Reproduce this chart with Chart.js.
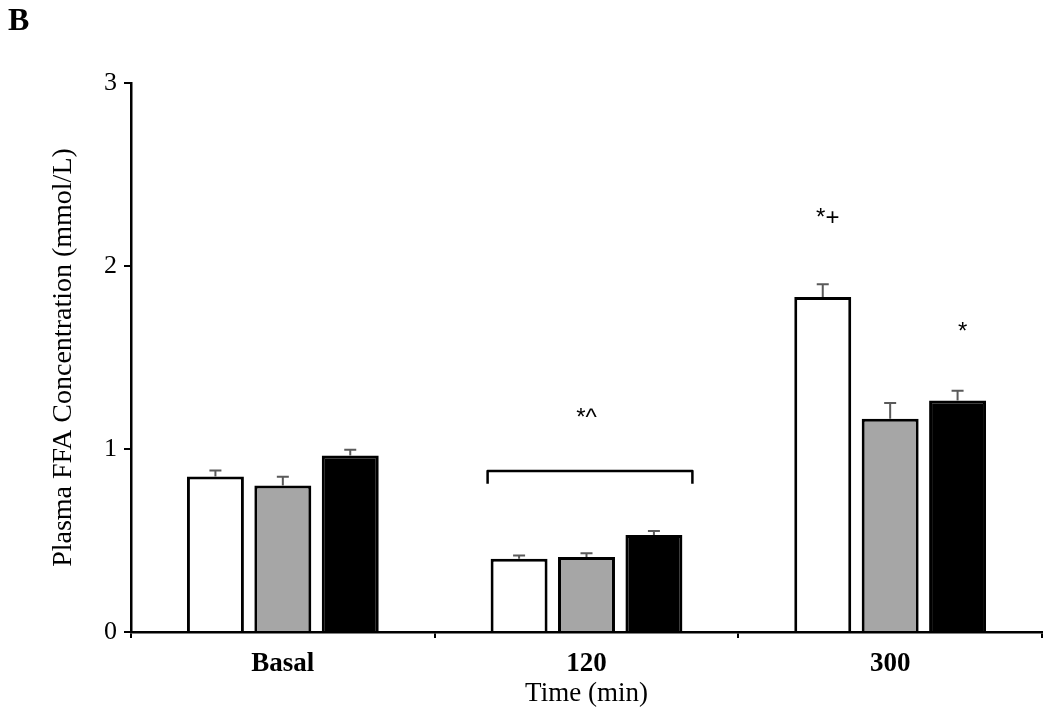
<!DOCTYPE html>
<html>
<head>
<meta charset="utf-8">
<script src="https://cdn.jsdelivr.net/npm/chart.js@4/dist/chart.umd.min.js"></script>
<style>
  html, body { margin: 0; padding: 0; background: #fff; }
  #wrap { width: 1050px; height: 716px; }
</style>
</head>
<body>
<div id="wrap"><canvas id="ffaChart"></canvas></div>
<script>
const categories = ["Basal", "120", "300"];
const yTicks = [0, 1, 2, 3];

const whiteVals = [0.85, 0.40, 1.83];
const greyVals = [0.80, 0.41, 1.165];
const blackVals = [0.965, 0.53, 1.265];

const whiteErr = [0.033, 0.018, 0.07];
const greyErr = [0.049, 0.02, 0.086];
const blackErr = [0.031, 0.022, 0.053];

// significance marks: [category, dataset (-1 = whole group), text, y value]
const marks = [
  [2, 0, "*+", 2.26],
  [2, 2, "*", 1.64],
  [1, -1, "*^", 1.17],
];
// bracket over the 120 group: [category, top value, end value]
const bracket = [1, 0.88, 0.81];

const serif = "'Liberation Serif', 'Times New Roman', serif";

const errorBars = {
  id: "errorBars",
  afterDatasetsDraw(chart) {
    const ctx = chart.ctx;
    const y = chart.scales.y;
    ctx.save();
    ctx.strokeStyle = "#5a5a5a";
    ctx.lineWidth = 2;
    chart.data.datasets.forEach((ds, i) => {
      const meta = chart.getDatasetMeta(i);
      meta.data.forEach((bar, j) => {
        const top = y.getPixelForValue(ds.data[j] + ds.errors[j]);
        ctx.beginPath();
        ctx.moveTo(bar.x, bar.y);
        ctx.lineTo(bar.x, top);
        ctx.moveTo(bar.x - 6, top);
        ctx.lineTo(bar.x + 6, top);
        ctx.stroke();
      });
    });
    ctx.restore();
  },
};

const extras = {
  id: "extras",
  afterDraw(chart) {
    const ctx = chart.ctx;
    const y = chart.scales.y;
    const x = chart.scales.x;
    ctx.save();
    // panel letter
    ctx.fillStyle = "#000";
    ctx.font = "bold 32px " + serif;
    ctx.textAlign = "left";
    ctx.textBaseline = "middle";
    ctx.fillText("B", 8, 22);

    // bracket
    const first = chart.getDatasetMeta(0).data[bracket[0]];
    const last = chart.getDatasetMeta(2).data[bracket[0]];
    const x0 = first.x - first.width / 2 - 3;
    const x1 = last.x + last.width / 2 + 10;
    const yt = y.getPixelForValue(bracket[1]);
    const ye = y.getPixelForValue(bracket[2]);
    ctx.strokeStyle = "#000";
    ctx.lineWidth = 2.5;
    ctx.lineJoin = "round";
    ctx.beginPath();
    ctx.moveTo(x0, ye);
    ctx.lineTo(x0, yt);
    ctx.lineTo(x1, yt);
    ctx.lineTo(x1, ye);
    ctx.stroke();

    // significance text
    ctx.font = "24px 'Liberation Sans', Arial, sans-serif";
    ctx.textAlign = "center";
    marks.forEach(([c, d, t, v]) => {
      const px = d < 0 ? x.getPixelForValue(c) : chart.getDatasetMeta(d).data[c].x + 5;
      ctx.fillText(t, px, y.getPixelForValue(v));
    });
    ctx.restore();
  },
};

new Chart(document.getElementById("ffaChart").getContext("2d"), {
  type: "bar",
  data: {
    labels: categories,
    datasets: [
      { label: "white", data: whiteVals, errors: whiteErr, backgroundColor: "#ffffff" },
      { label: "grey", data: greyVals, errors: greyErr, backgroundColor: "#a6a6a6" },
      { label: "black", data: blackVals, errors: blackErr, backgroundColor: "#000000" },
    ].map((d) => Object.assign(d, {
      borderColor: "#000",
      borderWidth: 3,
      categoryPercentage: 0.666,
      barPercentage: 0.845,
    })),
  },
  options: {
    responsive: true,
    maintainAspectRatio: false,
    animation: false,
    layout: { padding: { top: 83, right: 8, left: 0, bottom: 0 } },
    plugins: {
      legend: { display: false },
      tooltip: { enabled: false },
    },
    scales: {
      x: {
        afterFit: (s) => { s.height = 84; },
        grid: { offset: true, drawOnChartArea: false, drawTicks: true, tickLength: 6, color: "#000", lineWidth: 2 },
        border: { display: true, color: "#000", width: 2.5 },
        ticks: { color: "#000", padding: 10, font: { family: serif, size: 27, weight: "bold" } },
        title: { display: true, text: "Time (min)", color: "#000", padding: { top: 0, bottom: 6 }, font: { family: serif, size: 27 } },
      },
      y: {
        min: 0,
        max: 3,
        afterFit: (s) => { s.width = 131; },
        afterBuildTicks: (s) => { s.ticks = yTicks.map((v) => ({ value: v })); },
        grid: { drawOnChartArea: false, drawTicks: true, tickLength: 7, color: "#000", lineWidth: 2 },
        border: { display: true, color: "#000", width: 2.5 },
        ticks: { color: "#000", padding: 7, font: { family: serif, size: 26 } },
        title: { display: true, text: "Plasma FFA Concentration (mmol/L)", color: "#000", padding: { top: 47, bottom: 0 }, font: { family: serif, size: 28 } },
      },
    },
  },
  plugins: [errorBars, extras],
});
</script>
</body>
</html>
